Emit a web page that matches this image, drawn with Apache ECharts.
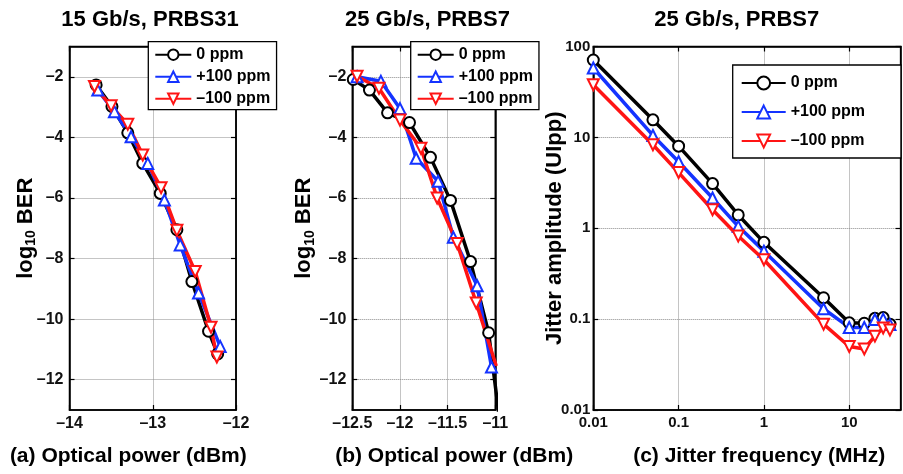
<!DOCTYPE html>
<html>
<head>
<meta charset="utf-8">
<script src="https://cdn.jsdelivr.net/npm/echarts@6/dist/echarts.min.js"></script>
<style>
  html, body { margin: 0; padding: 0; background: #fff; }
  #chart { width: 903px; height: 474px; }
</style>
</head>
<body>
<div id="chart"></div>
<script>
// series shared by the three panels
const seriesNames = ['0 ppm', '+100 ppm', '–100 ppm']
const seriesColors = ['#000000', '#1433ff', '#ff1414']

// (a) 15 Gb/s, PRBS31 : optical power (dBm) -> log10 BER
const powerA0 = [-13.68, -13.49, -13.30, -13.12, -12.91, -12.71, -12.53, -12.33, -12.22]
const berA0 = [-2.27, -2.98, -3.85, -4.86, -5.85, -7.05, -8.76, -10.4, -11.15]
const powerA1 = [-13.66, -13.46, -13.26, -13.06, -12.86, -12.67, -12.45, -12.19]
const berA1 = [-2.44, -3.15, -3.98, -4.86, -6.07, -7.55, -9.14, -10.9]
const powerA2 = [-13.70, -13.50, -13.30, -13.12, -12.90, -12.71, -12.49, -12.30, -12.23]
const berA2 = [-2.32, -2.96, -3.57, -4.58, -5.66, -7.07, -8.43, -10.27, -11.25]

// (b) 25 Gb/s, PRBS7 : optical power (dBm) -> log10 BER
const powerB0 = [-12.49, -12.32, -12.13, -11.90, -11.68, -11.47, -11.26, -11.07, -10.92]
const berB0 = [-2.09, -2.44, -3.19, -3.51, -4.66, -6.08, -8.10, -10.45, -14.2]
const powerB1 = [-12.45, -12.20, -12.00, -11.83, -11.60, -11.44, -11.19, -11.04]
const berB1 = [-2.0, -2.15, -3.05, -4.69, -5.45, -7.3, -8.9, -11.58]
const powerB2 = [-12.45, -12.22, -12.00, -11.78, -11.61, -11.40, -11.20, -10.99]
const berB2 = [-1.98, -2.38, -3.43, -4.36, -6.0, -7.5, -9.47, -11.55]

// (c) 25 Gb/s, PRBS7 : jitter frequency (MHz) -> jitter amplitude (UIpp)
const freqC = [0.01, 0.05, 0.1, 0.25, 0.5, 1, 5, 10, 15, 20, 25, 30]
const ampC0 = [71, 15.6, 8.0, 3.1, 1.4, 0.70, 0.172, 0.091, 0.09, 0.102, 0.104, 0.088]
const ampC1 = [58, 10.5, 5.4, 2.15, 1.05, 0.56, 0.13, 0.081, 0.081, 0.099, 0.10, 0.087]
const ampC2 = [38, 8.3, 4.1, 1.6, 0.82, 0.45, 0.088, 0.05, 0.047, 0.065, 0.080, 0.076]

// tick labels
const berTicks = [-12, -10, -8, -6, -4, -2]
const freqTicks = [0.01, 0.1, 1, 10]
const ampTicks = [0.01, 0.1, 1, 10, 100]

// plot boxes of the three panels (layout)
const plotBoxes = [
  { left: 69.5, top: 46.5, width: 166.5, height: 363.5 },
  { left: 352.3, top: 46.5, width: 143, height: 363.5 },
  { left: 593.3, top: 46.5, width: 307.3, height: 363.5 }
]

const FONT = '"Liberation Sans", Arial, Helvetica, sans-serif'
const dash = v => (v < 0 ? '–' + Math.abs(v) : String(v))
const zip = (xs, ys) => xs.map((x, i) => [x, ys[i]])

// frame axis: black line + inward ticks, no labels
function frameAxis (gridIndex, position, type, min, max, extra) {
  return Object.assign({
    show: true,
    gridIndex,
    position,
    type,
    min,
    max,
    axisLine: { show: true, onZero: false, lineStyle: { color: '#000', width: 1.5 } },
    axisTick: { show: true, inside: true, length: 5, lineStyle: { color: '#000', width: 1.2 } },
    axisLabel: { show: false },
    splitLine: { show: false }
  }, extra)
}

function ticksAt (values) {
  return { show: true, inside: true, length: 5, customValues: values, lineStyle: { color: '#000', width: 1.2 } }
}

function labelStyle (size, margin, values) {
  return {
    show: true,
    margin,
    fontFamily: FONT,
    fontWeight: 'bold',
    fontSize: size,
    color: '#111',
    customValues: values,
    formatter: dash
  }
}

const dotted = { show: true, lineStyle: { color: '#8a8a8a', type: 'dotted', width: 1 } }

function yName (text, gap) {
  return {
    name: text,
    nameLocation: 'middle',
    nameGap: gap,
    nameMoveOverlap: false,
    nameTextStyle: {
      fontFamily: FONT,
      fontWeight: 'bold',
      color: '#000',
      rich: {
        m: { fontFamily: FONT, fontWeight: 'bold', fontSize: 22, lineHeight: 26, color: '#000' },
        s: { fontFamily: FONT, fontWeight: 'bold', fontSize: 14, lineHeight: 16, verticalAlign: 'bottom', color: '#000' }
      }
    }
  }
}

const xAxis = [
  frameAxis(0, 'bottom', 'value', -14, -12, { interval: 1, axisLabel: labelStyle(16, 6), splitLine: dotted }),
  frameAxis(0, 'top', 'value', -14, -12, { interval: 1 }),
  frameAxis(1, 'bottom', 'value', -12.5, -11, { interval: 0.5, axisLabel: labelStyle(16, 6), splitLine: dotted }),
  frameAxis(1, 'top', 'value', -12.5, -11, { interval: 0.5 }),
  frameAxis(2, 'bottom', 'log', 0.01, 40, {
    axisTick: ticksAt(freqTicks),
    axisLabel: labelStyle(15, 5, freqTicks),
    splitLine: dotted
  }),
  frameAxis(2, 'top', 'log', 0.01, 40, { axisTick: ticksAt(freqTicks) })
]

const yAxis = [
  frameAxis(0, 'left', 'value', -13, -1, Object.assign({
    axisTick: ticksAt(berTicks),
    axisLabel: labelStyle(16, 6, berTicks),
    splitLine: dotted
  }, yName('{m|log}{s|10}{m| BER}', 31))),
  frameAxis(0, 'right', 'value', -13, -1, { axisTick: ticksAt(berTicks) }),
  frameAxis(1, 'left', 'value', -13, -1, Object.assign({
    axisTick: ticksAt(berTicks),
    axisLabel: labelStyle(16, 6, berTicks),
    splitLine: dotted
  }, yName('{m|log}{s|10}{m| BER}', 35))),
  frameAxis(1, 'right', 'value', -13, -1, { axisTick: ticksAt(berTicks) }),
  frameAxis(2, 'left', 'log', 0.01, 100, Object.assign({
    axisTick: ticksAt(ampTicks),
    axisLabel: labelStyle(15, 3, ampTicks),
    splitLine: dotted
  }, yName('{m|Jitter amplitude (UIpp)}', 25))),
  frameAxis(2, 'right', 'log', 0.01, 100, { axisTick: ticksAt(ampTicks) })
]

function makeSeries (k, axisIndex, points, clip) {
  return {
    name: seriesNames[k],
    type: 'line',
    xAxisIndex: axisIndex,
    yAxisIndex: axisIndex,
    data: points,
    clip,
    symbol: k === 0 ? 'emptyCircle' : 'emptyTriangle',
    symbolRotate: k === 2 ? 180 : 0,
    symbolSize: 11,
    color: seriesColors[k],
    lineStyle: { width: 3.5, color: seriesColors[k] },
    itemStyle: { color: seriesColors[k], borderWidth: 2.5 },
    emphasis: { disabled: true },
    animation: false
  }
}

const series = [
  makeSeries(0, 0, zip(powerA0, berA0), false),
  makeSeries(1, 0, zip(powerA1, berA1), false),
  makeSeries(2, 0, zip(powerA2, berA2), false),
  makeSeries(0, 2, zip(powerB0, berB0), true),
  makeSeries(1, 2, zip(powerB1, berB1), true),
  makeSeries(2, 2, zip(powerB2, berB2), true),
  makeSeries(0, 4, zip(freqC, ampC0), false),
  makeSeries(1, 4, zip(freqC, ampC1), false),
  makeSeries(2, 4, zip(freqC, ampC2), false)
]

function legendBox (left, top, iconW, iconH, gap, padding) {
  return {
    left,
    top,
    orient: 'vertical',
    itemWidth: iconW,
    itemHeight: iconH,
    itemGap: gap,
    padding,
    backgroundColor: '#fff',
    borderColor: '#000',
    borderWidth: 1.3,
    selectedMode: false,
    z: 10,
    textStyle: { fontFamily: FONT, fontWeight: 'bold', fontSize: 16, lineHeight: 16, color: '#000' },
    data: seriesNames
  }
}

function caption (text, x, y, size) {
  return {
    type: 'text',
    x,
    y,
    style: {
      text,
      font: `bold ${size}px ${FONT}`,
      fill: '#000',
      align: 'center',
      verticalAlign: 'middle',
      textAlign: 'center',
      textVerticalAlign: 'middle'
    }
  }
}

// the box round each plot, same rectangle as its grid
function frameRect (box) {
  return {
    type: 'rect',
    z: 3,
    silent: true,
    shape: { x: box.left, y: box.top, width: box.width, height: box.height },
    style: { fill: null, stroke: '#000', lineWidth: 1.5 }
  }
}

const chart = echarts.init(document.getElementById('chart'), null, { renderer: 'canvas' })
chart.setOption({
  animation: false,
  backgroundColor: '#fff',
  grid: plotBoxes.map(b => Object.assign({}, b)),
  xAxis,
  yAxis,
  legend: [
    legendBox(148.3, 41.7, 36, 13, 6, [5, 6, 3, 6]),
    legendBox(410.7, 41.7, 36, 13, 6, [5, 6, 3, 6]),
    legendBox(732.7, 65, 44, 16, 13, [10, 36, 9, 8])
  ],
  graphic: plotBoxes.map(frameRect).concat([
    caption('15 Gb/s, PRBS31', 150, 20, 22),
    caption('25 Gb/s, PRBS7', 427.5, 20, 22),
    caption('25 Gb/s, PRBS7', 736.7, 20, 22),
    caption('(a) Optical power (dBm)', 128.3, 456, 21),
    caption('(b) Optical power (dBm)', 454.2, 456, 21),
    caption('(c) Jitter frequency (MHz)', 759.2, 456, 21)
  ]),
  series
})
</script>
</body>
</html>
